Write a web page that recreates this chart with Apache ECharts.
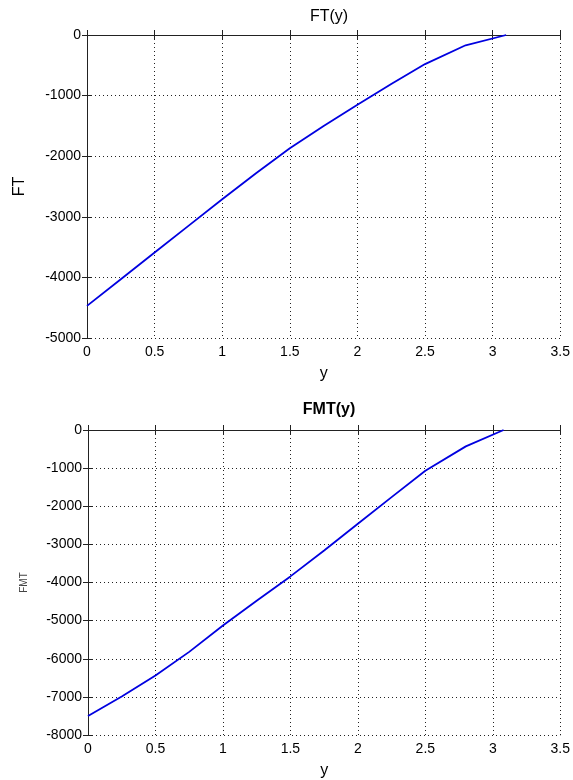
<!DOCTYPE html>
<html>
<head>
<meta charset="utf-8">
<script src="https://cdn.jsdelivr.net/npm/echarts@6/dist/echarts.min.js"></script>
<style>
  html, body { margin: 0; padding: 0; background: #fff; }
  #chart { width: 573px; height: 780px; }
</style>
</head>
<body>
<div id="chart"></div>
<script>
// valeurs
const yFT = [0, 0.25, 0.5, 0.75, 1.0, 1.25, 1.5, 1.75, 2.0, 2.25, 2.5, 2.8, 3.1];
const valFT = [-4470, -4030, -3590, -3150, -2710, -2280, -1870, -1500, -1150, -810, -480, -170, 0];

const yFMT = [0, 0.25, 0.5, 0.75, 1.0, 1.25, 1.5, 1.75, 2.0, 2.25, 2.5, 2.8, 3.08];
const valFMT = [-7500, -6990, -6440, -5820, -5130, -4480, -3840, -3160, -2460, -1760, -1070, -430, 0];

const titles = ["FT(y)", "FMT(y)"];

const font = "'Liberation Sans', Arial, sans-serif";
const frame = { show: true, lineStyle: { color: "#222", width: 1 } };
const dotted = { show: true, lineStyle: { color: "#222", type: [1, 3], width: 1 } };
const tickIn = { show: true, inside: true, length: 5, lineStyle: { color: "#222" } };
const lbl = { color: "#000", fontFamily: font, fontSize: 14, formatter: (v) => String(v) };

function xAxes(gi) {
  return [
    {
      gridIndex: gi, type: "value", min: 0, max: 3.5, interval: 0.5,
      name: "y", nameLocation: "middle", nameGap: 28,
      nameTextStyle: { color: "#000", fontFamily: font, fontSize: 16 },
      axisLine: frame, axisTick: tickIn, splitLine: dotted,
      axisLabel: Object.assign({ margin: 7 }, lbl),
    },
    {
      gridIndex: gi, type: "value", position: "top", min: 0, max: 3.5, interval: 0.5,
      axisLine: frame, axisTick: tickIn, splitLine: { show: false }, axisLabel: { show: false },
    },
  ];
}

function yAxes(gi, min, name, nameStyle) {
  return [
    {
      gridIndex: gi, type: "value", min: min, max: 0, interval: 1000,
      name: name, nameLocation: "middle", nameGap: 59, nameTextStyle: nameStyle,
      axisLine: frame, axisTick: tickIn, splitLine: dotted,
      axisLabel: Object.assign({ margin: 6 }, lbl),
    },
    {
      gridIndex: gi, type: "value", position: "right", min: min, max: 0, interval: 1000,
      axisLine: frame, axisTick: tickIn, splitLine: { show: false }, axisLabel: { show: false },
    },
  ];
}

const chart = echarts.init(document.getElementById("chart"));
chart.setOption({
  animation: false,
  backgroundColor: "#fff",
  title: [
    { text: titles[0], left: 324, top: 4, textAlign: "center",
      textStyle: { fontFamily: font, fontSize: 16, fontWeight: "normal", color: "#000" } },
    { text: titles[1], left: 324, top: 397, textAlign: "center",
      textStyle: { fontFamily: font, fontSize: 16, fontWeight: "bold", color: "#000" } },
  ],
  grid: [
    { left: 87, right: 12, top: 35, height: 303 },
    { left: 88, right: 12, top: 430, height: 307 },
  ],
  xAxis: xAxes(0).concat(xAxes(1)),
  yAxis: yAxes(0, -5000, "FT", { color: "#000", fontFamily: font, fontSize: 16 })
    .concat(yAxes(1, -8000, "FMT", { color: "#444", fontFamily: font, fontSize: 10 })),
  series: [
    {
      type: "line", xAxisIndex: 0, yAxisIndex: 0, showSymbol: false,
      lineStyle: { color: "#0000e0", width: 1.8 },
      data: yFT.map((v, i) => [v, valFT[i]]),
    },
    {
      type: "line", xAxisIndex: 2, yAxisIndex: 2, showSymbol: false,
      lineStyle: { color: "#0000e0", width: 1.8 },
      data: yFMT.map((v, i) => [v, valFMT[i]]),
    },
  ],
});
</script>
</body>
</html>
